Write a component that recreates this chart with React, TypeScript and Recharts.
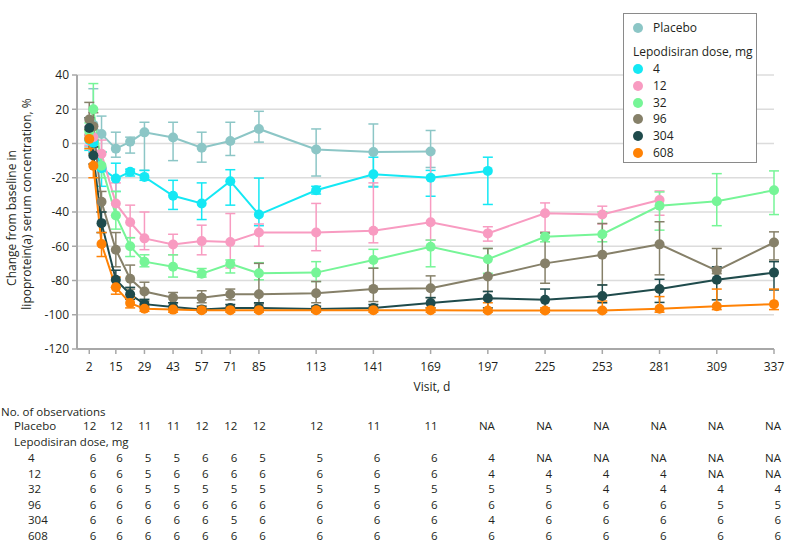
import React from 'react';
import { LineChart, Line, XAxis, YAxis, CartesianGrid, ErrorBar, Legend } from 'recharts';

const FONT = '"Open Sans", "Liberation Sans", sans-serif';
const TEXT = '#231f20';

// Visit days at which measurements were drawn
const DAYS = [2, 4, 8, 15, 22, 29, 43, 57, 71, 85, 113, 141, 169, 197, 225, 253, 281, 309, 337];
// Axis ticks (also table columns)
const TICKS = [2, 15, 29, 43, 57, 71, 85, 113, 141, 169, 197, 225, 253, 281, 309, 337];
const Y_TICKS = [-120, -100, -80, -60, -40, -20, 0, 20, 40];

type N = number | null;

// Means (% change) per group
const placebo: N[] = [3, 11, 5.5, -3, 1, 6.5, 3.5, -2.5, 1.5, 8.5, -3.5, -5, -4.7, null, null, null, null, null, null];
const dose4: N[] = [2, 0.5, -14.5, -20.5, -16.5, -19.5, -30.5, -35, -22, -41.5, -27.3, -18, -20, -16, null, null, null, null, null];
const dose12: N[] = [5, 3.7, -6, -35, -46, -55.4, -59, -57, -57.5, -52, -52, -51, -46, -52.5, -40.7, -41.5, -33, null, null];
const dose32: N[] = [7, 20, -13, -42, -60, -69, -72, -76, -70.3, -75.8, -75.4, -68, -60.3, -67.6, -54.5, -53, -36.4, -33.7, -27.3];
const dose96: N[] = [14, 10, -34, -62, -79, -86.4, -90, -90, -88, -88, -87.4, -84.9, -84.5, -77.7, -70, -65, -58.9, -74.2, -57.8];
const dose304: N[] = [9, -7, -46.5, -79.6, -88, -93.8, -95.5, -97, -96, -96, -96.7, -96, -93.2, -90.3, -91.3, -89, -85, -79.6, -75.4];
const dose608: N[] = [2.7, -13, -58.7, -84, -93.2, -96.5, -97, -97.3, -97.3, -97.3, -97.3, -97.3, -97.3, -97.5, -97.5, -97.5, -96.5, -95, -93.8];

// Lower / upper bounds of error bars
const placeboLo: N[] = [-2, -5, -5, -8, -5.6, -15.7, -10, -10.9, -7, 0.8, -19, -25, -14, null, null, null, null, null, null];
const placeboHi: N[] = [8, 32, 16, 6.6, 3.7, 12.4, 12.4, 6.6, 12.4, 18.8, 8.5, 11.4, 7.6, null, null, null, null, null, null];
const dose4Lo: N[] = [-4, -5, -25, -28, -19, -21.5, -38.5, -44.4, -36, -48, -29.5, -25.4, -30.8, -35.6, null, null, null, null, null];
const dose4Hi: N[] = [8, 6, -5, -11.5, -15, -15.7, -21.5, -23, -15.3, -20.2, -25, -8, -15.7, -8, null, null, null, null, null];
const dose12Lo: N[] = [-1, -4, -14, -42, -55, -62, -65, -65, -72.7, -60, -62.6, -58, -56.4, -57, -51.6, -47, -41.9, null, null];
const dose12Hi: N[] = [10, 10, 2, -23, -36, -40, -53, -47.7, -40.9, -47, -35, -23, -4, -48.6, -34.7, -36.6, -27.7, null, null];
const dose32Lo: N[] = [2, 5, -20, -50, -66, -72, -78, -78, -75.6, -79.6, -80.6, -72.8, -72, -75.8, -57.4, -57.4, -50.6, -48, -41.5];
const dose32Hi: N[] = [12, 35, -5, -28, -55, -65, -65, -73, -68, -69.6, -69, -61.8, -56.4, -61.3, -52, -40, -28.3, -17.6, -16];
const dose96Lo: N[] = [5, 2, -40, -72, -85, -92, -93, -93, -91.3, -93.6, -93, -92.3, -90, -86.4, -81.6, -82.6, -76.7, -76, -68];
const dose96Hi: N[] = [24, 18, -28, -52, -71, -81, -87, -86, -85, -70, -80.6, -72.8, -77.3, -61.3, -52.3, -46.7, -45.7, -61.3, -51.6];
const dose304Lo: N[] = [3, -12, -52, -84, -91, -96, -97, -98, -97.5, -97.5, -98, -97.5, -96, -96, -97, -93, -92.8, -91.3, -85.5];
const dose304Hi: N[] = [15, -2, -40, -74, -84, -91, -93, -95, -94, -93, -95, -94, -90, -86.4, -85, -82.6, -79.3, -72, -69];
const dose608Lo: N[] = [-3, -20, -66, -88, -96, -98, -98.5, -98.5, -98.5, -98.5, -98.5, -98.5, -98.5, -98.5, -98.5, -98.5, -98.5, -97, -97];
const dose608Hi: N[] = [8, -6, -52, -78, -90, -95, -96, -96, -96, -96, -96, -96, -96, -93, -96, -92, -89.4, -85, -85];

// Series names and colours
const NAMES = ['Placebo', '4', '12', '32', '96', '304', '608'];
const COLORS = ['#8cc6c6', '#14e8f4', '#f89bc1', '#76f597', '#868069', '#1f4b4c', '#ff8205'];
const MEANS = [placebo, dose4, dose12, dose32, dose96, dose304, dose608];
const LOWS = [placeboLo, dose4Lo, dose12Lo, dose32Lo, dose96Lo, dose304Lo, dose608Lo];
const HIGHS = [placeboHi, dose4Hi, dose12Hi, dose32Hi, dose96Hi, dose304Hi, dose608Hi];

// Number of observations table (columns = TICKS)
const obsPlacebo = ['12', '12', '11', '11', '12', '12', '12', '12', '11', '11', 'NA', 'NA', 'NA', 'NA', 'NA', 'NA'];
const obs4 = ['6', '6', '5', '5', '6', '6', '5', '5', '6', '6', '4', 'NA', 'NA', 'NA', 'NA', 'NA'];
const obs12 = ['6', '6', '5', '6', '6', '6', '6', '6', '6', '6', '4', '4', '4', '4', 'NA', 'NA'];
const obs32 = ['6', '6', '5', '5', '5', '5', '5', '5', '5', '5', '5', '5', '4', '4', '4', '4'];
const obs96 = ['6', '6', '6', '6', '6', '6', '6', '6', '6', '6', '6', '6', '6', '6', '5', '5'];
const obs304 = ['6', '6', '6', '6', '6', '5', '6', '6', '6', '6', '4', '6', '6', '6', '6', '6'];
const obs608 = ['6', '6', '6', '6', '6', '6', '6', '6', '6', '6', '6', '6', '6', '6', '6', '6'];
const OBS_ROWS = [obsPlacebo, obs4, obs12, obs32, obs96, obs304, obs608];
// baseline offset of each table row below the tick-label anchor
const ROW_DY = [74, 106, 121.5, 137, 152.5, 168, 184];

const seriesData = MEANS.map((vals, s) =>
  DAYS.map((d, i) => {
    const v = vals[i];
    if (v == null) return null;
    const lo = LOWS[s][i] as number;
    const hi = HIGHS[s][i] as number;
    return { day: d, v, err: [v - lo, hi - v] };
  }).filter(Boolean) as { day: number; v: number; err: number[] }[]
);

const txt = { fontFamily: FONT, fontSize: 12, fill: TEXT } as const;
const tbl = { fontFamily: FONT, fontSize: 11.5, fill: TEXT } as const;

const XTick = (props: any) => {
  const { x, y, payload, index } = props;
  const col = TICKS.indexOf(payload.value);
  return (
    <g>
      <text x={x} y={y + 15} textAnchor="middle" {...txt}>{payload.value}</text>
      {OBS_ROWS.map((row, r) => (
        <text key={r} x={x + 7} y={y + ROW_DY[r]} textAnchor="end" {...tbl}>{row[col]}</text>
      ))}
      {index === 0 && (
        <g>
          <text x={432} y={y + 35} textAnchor="middle" {...txt}>Visit, d</text>
          <text x={1} y={y + 59.5} {...tbl}>No. of observations</text>
          <text x={14} y={y + 74} {...tbl}>Placebo</text>
          <text x={14} y={y + 89.5} {...tbl}>Lepodisiran dose, mg</text>
          {NAMES.slice(1).map((n, k) => (
            <text key={n} x={28} y={y + ROW_DY[k + 1]} {...tbl}>{n}</text>
          ))}
        </g>
      )}
    </g>
  );
};

const YLabel = (props: any) => {
  const vb = props.viewBox || { x: 0, y: 75, width: 77, height: 274 };
  const cy = vb.y + vb.height / 2;
  return (
    <g>
      <text transform={`translate(15.5, ${cy + 6}) rotate(-90)`} textAnchor="middle" {...txt}>Change from baseline in</text>
      <text transform={`translate(31, ${cy - 8}) rotate(-90)`} textAnchor="middle" {...txt}>lipoprotein(a) serum concentration, %</text>
    </g>
  );
};

const LegendBox = () => {
  const row = (name: string, color: string, top: number) => (
    <div key={name} style={{ position: 'absolute', left: 9, top: top - 8, height: 16, display: 'flex', alignItems: 'center' }}>
      <span style={{ width: 10, height: 10, borderRadius: 5, background: color, display: 'inline-block' }} />
      <span style={{ marginLeft: 10 }}>{name}</span>
    </div>
  );
  return (
    <div style={{ position: 'relative', width: 134, height: 150, border: '1.5px solid #8a8a8a', boxSizing: 'border-box', background: '#fff', fontFamily: FONT, fontSize: 12, color: TEXT, lineHeight: '16px' }}>
      {row(NAMES[0], COLORS[0], 14)}
      <div style={{ position: 'absolute', left: 9, top: 30 }}>Lepodisiran dose, mg</div>
      {NAMES.slice(1).map((n, k) => row(n, COLORS[k + 1], 55 + k * 16.8))}
    </div>
  );
};

export default function App() {
  return (
    <div style={{ position: 'absolute', left: 0, top: 0, width: 785, height: 554, background: '#fff' }}>
      <LineChart width={785} height={554} margin={{ top: 75, right: 11, bottom: 175, left: 0 }}>
        <CartesianGrid horizontal vertical={false} stroke="#dcdcdc" strokeWidth={1.5} />
        <XAxis
          type="number"
          dataKey="day"
          domain={[-4, 337]}
          ticks={TICKS}
          interval={0}
          height={30}
          tickSize={5}
          tickMargin={2}
          axisLine={{ stroke: '#a8a8a8', strokeWidth: 2 }}
          tickLine={{ stroke: '#a8a8a8', strokeWidth: 1.5 }}
          tick={<XTick />}
          allowDuplicatedCategory={false}
        />
        <YAxis
          type="number"
          domain={[-120, 40]}
          ticks={Y_TICKS}
          interval={0}
          width={77}
          tickSize={5}
          tickMargin={3}
          axisLine={{ stroke: '#a8a8a8', strokeWidth: 2 }}
          tickLine={{ stroke: '#a8a8a8', strokeWidth: 1.5 }}
          tick={{ fontFamily: FONT, fontSize: 12, fill: TEXT }}
          label={<YLabel />}
        />
        <Legend
          layout="horizontal"
          verticalAlign="middle"
          align="center"
          wrapperStyle={{ position: 'absolute', left: 623, top: 13, width: 134, height: 150 }}
          content={() => <LegendBox />}
        />
        {seriesData.map((data, s) => (
          <Line
            key={NAMES[s]}
            data={data}
            dataKey="v"
            name={NAMES[s]}
            stroke={COLORS[s]}
            strokeWidth={2}
            dot={{ r: 5, fill: COLORS[s], stroke: COLORS[s], strokeWidth: 0 }}
            activeDot={false}
            isAnimationActive={false}
          >
            <ErrorBar dataKey="err" direction="y" width={5} stroke={COLORS[s]} strokeWidth={1.5} />
          </Line>
        ))}
      </LineChart>
    </div>
  );
}
